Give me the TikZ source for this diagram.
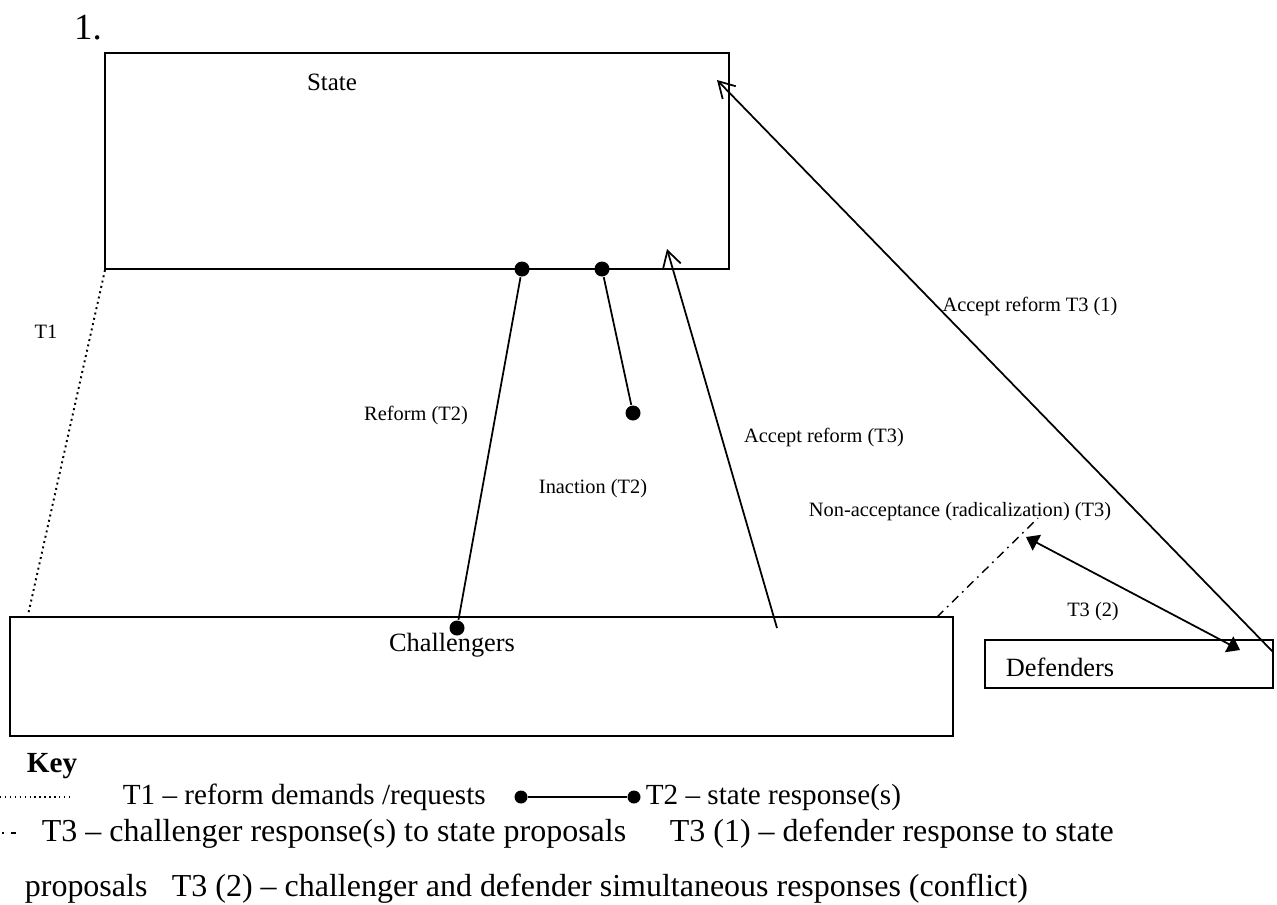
\documentclass[tikz,border=0pt]{standalone}
\usepackage{fontspec}
\setmainfont{Liberation Serif}
\usetikzlibrary{arrows.meta, positioning}

\begin{document}
\begin{tikzpicture}[x=0.02cm, y=-0.02cm, line width=1pt,
    box/.style={rectangle, draw, line width=1.1pt, inner sep=0pt},
    blob/.style={circle, fill=black, inner sep=0pt, minimum size=0.3cm},
    keyblob/.style={circle, fill=black, inner sep=0pt, minimum size=0.26cm},
    lbl/.style={font=\fontsize{11.6}{13}\selectfont, inner sep=0pt},
    boxtext/.style={font=\fontsize{15}{17}\selectfont, inner sep=0pt},
    keytext/.style={font=\fontsize{16.6}{19}\selectfont, inner sep=0pt, anchor=base west},
    bigkeytext/.style={font=\fontsize{18.2}{21}\selectfont, inner sep=0pt, anchor=base west},
    openarrow/.style={-{Straight Barb[length=9pt, width=10.4pt]}},
    bothtri/.style={{Triangle[length=7pt, width=10pt]}-{Triangle[length=7pt, width=10pt]}},
    dashdot/.style={line width=0.8pt, dash pattern=on 5pt off 3pt on 1pt off 3pt}]
    \useasboundingbox (0,0) rectangle (1277,904);

    % boxes
    \node[box, minimum width=12.48cm, minimum height=4.32cm] (state) at (417,161) {};
    \node[box, minimum width=18.86cm, minimum height=2.38cm] (chall) at (481.5,676.5) {};
    \node[box, minimum width=5.76cm, minimum height=0.96cm] (defend) at (1129,664) {};

    \node[font=\fontsize{21}{24}\selectfont, inner sep=0pt] (num) at (88,28) {1.};
    \node[font=\fontsize{14.2}{16}\selectfont, inner sep=0pt] (stateText) at (332,82) {State};
    \node[boxtext] (challText) at (452,645) {Challengers};
    \node[boxtext] (defendText) at (1060,667) {Defenders};

    % T1
    \coordinate (t1Top) at (105,270);
    \coordinate (t1Bot) at (28,615);
    \draw[dotted, line width=1.1pt] (t1Top) -- (t1Bot);
    \node[lbl] (t1Text) at (46,332) {T1};

    % T2
    \node[blob] (reformTop) at (522,269) {};
    \node[blob] (reformBot) at (457,628) {};
    \draw (reformTop) -- (reformBot);
    \node[lbl] (reformText) at (416,415) {Reform (T2)};
    \node[blob] (inactTop) at (602,269) {};
    \node[blob] (inactBot) at (633,413) {};
    \draw (inactTop) -- (inactBot);
    \node[lbl] (inactText) at (593,489) {Inaction (T2)};

    % T3
    \coordinate (accTail) at (777,628);
    \coordinate (accTip) at (667,249);
    \draw[openarrow] (accTail) -- (accTip);
    \node[lbl] (accText) at (824,437) {Accept reform (T3)};

    \coordinate (defTail) at (1273,652);
    \coordinate (defTip) at (717,80);
    \draw[openarrow] (defTail) -- (defTip);
    \node[lbl] (defText) at (1030,306) {Accept reform T3 (1)};

    \coordinate (radStart) at (937,617);
    \coordinate (radEnd) at (1038,518);
    \draw[dashdot] (radStart) -- (radEnd);
    \node[lbl] (radText) at (960,512) {Non-acceptance (radicalization) (T3)};

    \coordinate (conflA) at (1026,537);
    \coordinate (conflB) at (1240,650);
    \draw[bothtri] (conflA) -- (conflB);
    \node[lbl] (conflText) at (1093,612) {T3 (2)};

    % key
    \node[font=\fontsize{16.6}{19}\selectfont\bfseries, inner sep=0pt, anchor=base west] (keyTitle) at (26,772) {Key};
    \coordinate (kDotA) at (0,797);
    \coordinate (kDotB) at (69,797);
    \draw[dotted, line width=0.8pt] (kDotA) -- (kDotB);
    \node[keytext] (key1) at (122,804) {T1 – reform demands /requests};
    \node[keyblob] (kBlobA) at (521,797) {};
    \node[keyblob] (kBlobB) at (634,797) {};
    \draw (kBlobA) -- (kBlobB);
    \node[keytext] (key2) at (645,804) {T2 – state response(s)};
    \coordinate (kDashA) at (2,833);
    \coordinate (kDashB) at (16,833);
    \draw[line width=0.8pt, dash pattern=on 1pt off 4pt on 4pt off 20pt] (kDashA) -- (kDashB);
    \node[bigkeytext] (key3) at (41,841) {T3 – challenger response(s) to state proposals};
    \node[bigkeytext] (key4) at (669,841) {T3 (1) – defender response to state};
    \node[bigkeytext] (key5) at (24,896) {proposals};
    \node[bigkeytext] (key6) at (171,896) {T3 (2) – challenger and defender simultaneous responses (conflict)};
\end{tikzpicture}
\end{document}
